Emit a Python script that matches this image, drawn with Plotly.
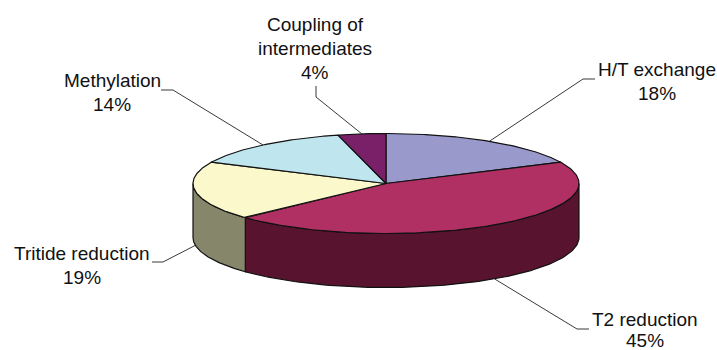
import numpy as np
import plotly.graph_objects as go

categories = ["H/T exchange", "T2 reduction", "Tritide reduction", "Methylation", "Coupling of intermediates"]
values = [18, 45, 19, 14, 4]
label_lines = [["H/T exchange", "18%"], ["T2 reduction", "45%"], ["Tritide reduction", "19%"],
               ["Methylation", "14%"], ["Coupling of", "intermediates", "4%"]]

top_colors = ["#9999CC", "#B03064", "#FBF8CC", "#BFE6EE", "#7A2068"]
side_colors = ["#4C4C66", "#58142F", "#86866A", "#607378", "#3D1034"]

CX, CY, RX, RY, DEPTH = 386, 183.5, 193, 50, 54
W, H = 717, 350
LINE = "#111111"


def ell(t, dy=0.0):
    r = np.radians(t)
    return CX + RX * np.sin(r), CY - RY * np.cos(r) + dy


fig = go.Figure()


def poly(x, y, fill):
    fig.add_trace(go.Scatter(x=list(x), y=list(y), mode="lines", fill="toself", fillcolor=fill,
                             line=dict(color=LINE, width=1.2), hoverinfo="skip", showlegend=False))


def leader(x, y):
    fig.add_trace(go.Scatter(x=x, y=y, mode="lines", line=dict(color="#222222", width=0.9),
                             hoverinfo="skip", showlegend=False))


edges = np.concatenate([[0], np.cumsum(values)]) * 3.6

# side walls (visible front half only), drawn first
for i in range(len(values)):
    a, b = max(edges[i], 90), min(edges[i + 1], 270)
    if a < b:
        t = np.linspace(a, b, 120)
        x1, y1 = ell(t)
        x2, y2 = ell(t[::-1], DEPTH)
        poly(np.r_[x1, x2, x1[0]], np.r_[y1, y2, y1[0]], side_colors[i])

# top wedges
for i in range(len(values)):
    t = np.linspace(edges[i], edges[i + 1], 160)
    x, y = ell(t)
    poly(np.r_[CX, x, CX], np.r_[CY, y, CY], top_colors[i])

# label layout: elbow path from the wedge's mid-angle, then text lines
elbows = [[(583, 79), (595, 79)], [(577, 329), (589, 329)], [(163, 262), (152, 262)],
          [(173, 90), (161, 90)], [(316, 97), (316, 86)]]
text_centers = [657, 645, 82, 112, 315]
text_first_y = [69, 319, 253, 80, 24]
line_steps = [24, 21.5, 24, 24, 24]

for i in range(len(values)):
    mid = (edges[i] + edges[i + 1]) / 2
    ax, ay = ell(mid, DEPTH if 90 < mid < 270 else 0)
    leader([float(ax)] + [p[0] for p in elbows[i]], [float(ay)] + [p[1] for p in elbows[i]])
    for k, txt in enumerate(label_lines[i]):
        fig.add_annotation(x=text_centers[i], y=text_first_y[i] + k * line_steps[i], text=txt, showarrow=False,
                           xanchor="center", yanchor="middle",
                           font=dict(family="Liberation Sans", size=19, color="#111111"))

fig.update_layout(width=W, height=H, margin=dict(l=0, r=0, t=0, b=0), showlegend=False,
                  paper_bgcolor="white", plot_bgcolor="white",
                  xaxis=dict(range=[0, W], visible=False, fixedrange=True),
                  yaxis=dict(range=[H, 0], visible=False, fixedrange=True))
fig.write_html("out.html", config=dict(displayModeBar=False),
               post_script="document.body.style.margin='0';document.body.style.overflow='hidden';")
